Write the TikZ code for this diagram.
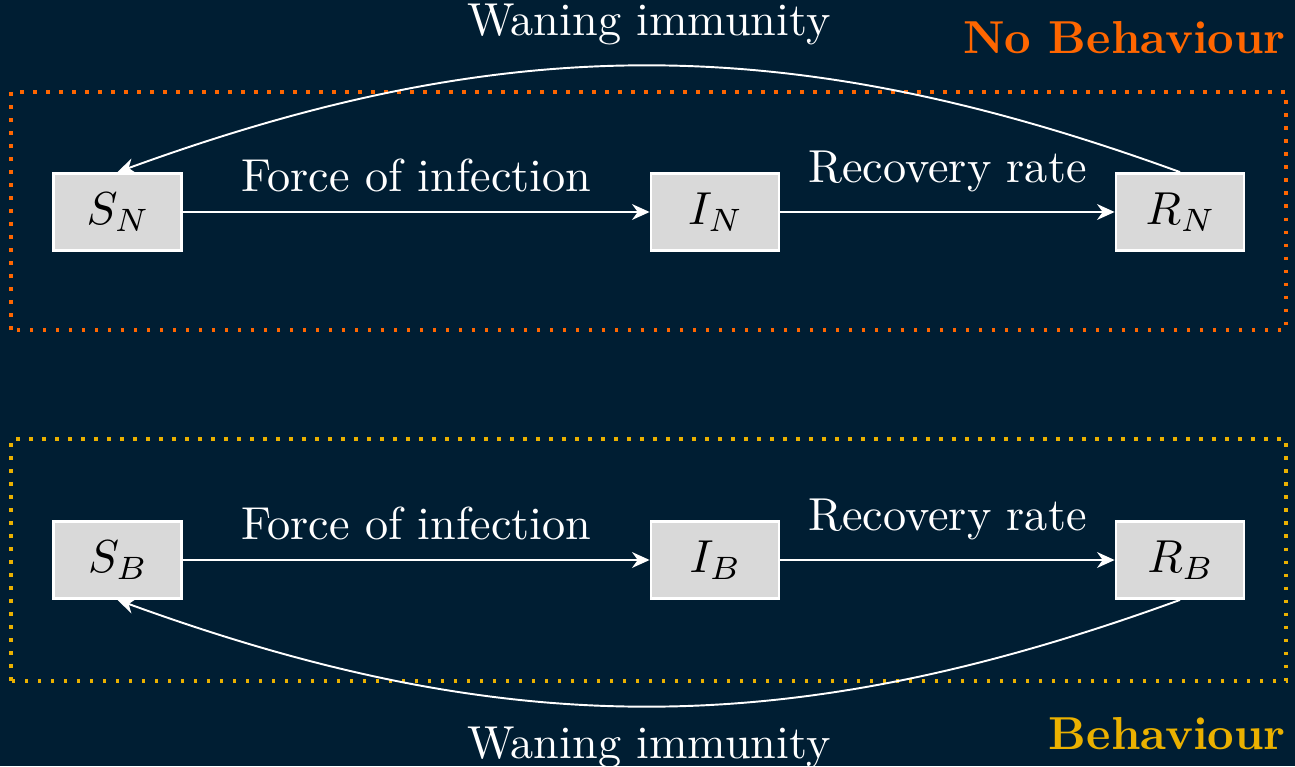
\documentclass[tikz,border=0pt]{standalone}
\usepackage{fontspec}
\setmainfont{lmroman10-regular.otf}[BoldFont=lmroman10-bold.otf]
\DeclareFontShape{OML}{cmm}{m}{it}{<-20>cmmi7 <20->cmmi10}{}
\usetikzlibrary{arrows.meta}

\definecolor{navy}{RGB}{0,30,51}
\definecolor{boxgray}{RGB}{217,217,217}
\definecolor{nobeh}{RGB}{255,102,0}
\definecolor{beh}{RGB}{235,177,0}

\begin{document}
\begin{tikzpicture}[
  font=\fontsize{26.3}{32}\selectfont,
  box/.style={draw=white, line width=1.6pt, fill=boxgray, minimum width=2.56cm, minimum height=1.54cm},
  flow/.style={color=white, line width=1.1pt, -{Stealth[length=10pt,width=9pt]}},
  rate/.style={inner sep=11pt},
  group/.style={line width=2pt, dash pattern=on 2pt off 5.4pt}
]

  % Background
  \fill[navy] (0,0) rectangle (25.9,15.32);
  \useasboundingbox (0,0) rectangle (25.9,15.32);

  % Group outlines
  \draw[group, draw=nobeh] (0.22,8.72) rectangle (25.72,13.48);
  \draw[group, draw=beh] (0.22,1.7) rectangle (25.72,6.54);

  \node[anchor=base east, text=nobeh, font=\fontsize{26.3}{32}\selectfont\bfseries] (nobehlabel) at (25.84,14.24) {No Behaviour};
  \node[anchor=base east, text=beh, font=\fontsize{26.3}{32}\selectfont\bfseries] (behlabel) at (25.84,0.34) {Behaviour};

  % Compartments
  \node[box] (SN) at (2.35,11.08) {$S_N$};
  \node[box] (IN) at (14.3,11.08) {$I_N$};
  \node[box] (RN) at (23.6,11.08) {$R_N$};

  \node[box] (SB) at (2.35,4.12) {$S_B$};
  \node[box] (IB) at (14.3,4.12) {$I_B$};
  \node[box] (RB) at (23.6,4.12) {$R_B$};

  % Transitions
  \draw[flow] (SN) -- node[rate, above] {Force of infection} (IN);
  \draw[flow] (IN) -- node[rate, above] {Recovery rate} (RN);
  \draw[flow] (RN.north) to[bend right=20] node[rate, above] {Waning immunity} (SN.north);

  \draw[flow] (SB) -- node[rate, above] {Force of infection} (IB);
  \draw[flow] (IB) -- node[rate, above] {Recovery rate} (RB);
  \draw[flow] (RB.south) to[bend left=20] node[rate, below] {Waning immunity} (SB.south);

\end{tikzpicture}
\end{document}
